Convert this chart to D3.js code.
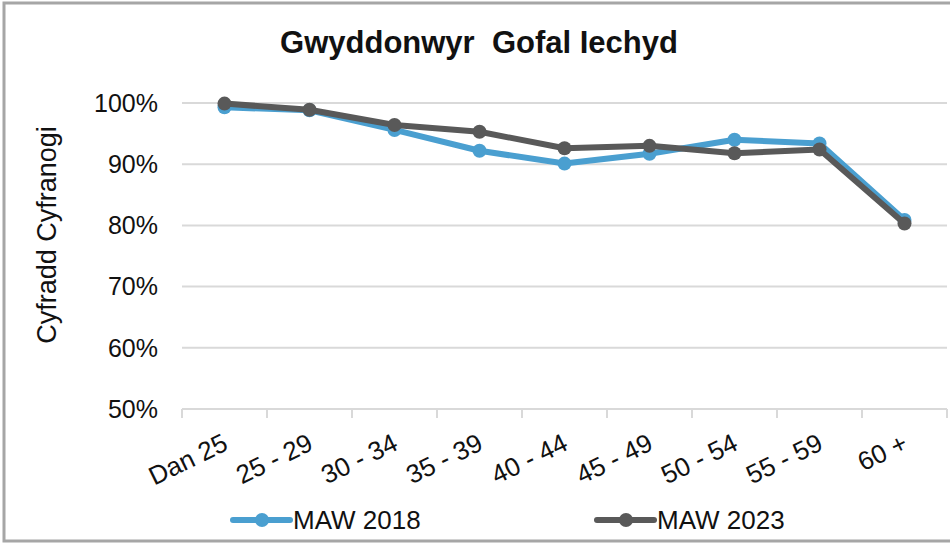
<!DOCTYPE html>
<meta charset="utf-8">
<style>
body { margin: 0; background: #fff; }
text { font-family: "Liberation Sans", Arial, sans-serif; fill: #111; }
.grid line { stroke: #d9d9d9; stroke-width: 2; }
.xaxis path, .xaxis line { stroke: #d9d9d9; stroke-width: 2; }
</style>
<svg width="950" height="545"></svg>
<script src="https://cdn.jsdelivr.net/npm/d3@7"></script>
<script>

var ageGroups = ["Dan 25", "25 - 29", "30 - 34", "35 - 39", "40 - 44", "45 - 49", "50 - 54", "55 - 59", "60 +"];
var maw2018 = [0.993, 0.988, 0.956, 0.922, 0.901, 0.917, 0.940, 0.934, 0.809];
var maw2023 = [0.999, 0.989, 0.964, 0.953, 0.926, 0.930, 0.918, 0.924, 0.803];
var yTicks = [0.5, 0.6, 0.7, 0.8, 0.9, 1.0];
var seriesNames = ["MAW 2018", "MAW 2023"];
var seriesColors = ["#4a9fd0", "#595959"];

var svg = d3.select("svg");

// chart frame
svg.append("path")
    .attr("d", "M960,3H4V541H960")
    .attr("fill", "none")
    .attr("stroke", "#a6a6a6")
    .attr("stroke-width", 3);

var x = d3.scaleBand()
    .domain(ageGroups)
    .range([182, 947]);

var y = d3.scaleLinear()
    .domain([0.5, 1.0])
    .range([409, 103]);

// gridlines
svg.append("g")
    .attr("class", "grid")
  .selectAll("line")
  .data(yTicks.slice(1))
  .enter().append("line")
    .attr("x1", 182)
    .attr("x2", 947)
    .attr("y1", function(d) { return y(d); })
    .attr("y2", function(d) { return y(d); });

// y labels
svg.append("g")
  .selectAll("text")
  .data(yTicks)
  .enter().append("text")
    .attr("x", 158)
    .attr("y", function(d) { return y(d); })
    .attr("dy", "0.35em")
    .attr("text-anchor", "end")
    .attr("font-size", 25)
    .text(d3.format(".0%"));

// x axis, ticks on category boundaries
var xAxis = svg.append("g")
    .attr("class", "xaxis")
    .attr("transform", "translate(0," + y(0.5) + ")")
    .call(d3.axisBottom(x).tickSize(0).tickFormat(""));
xAxis.select(".domain").attr("d", "M182,0H947");
xAxis.selectAll(".boundary")
  .data(ageGroups.concat(["end"]))
  .enter().append("line")
    .attr("x1", function(d, i) { return 182 + i * x.step(); })
    .attr("x2", function(d, i) { return 182 + i * x.step(); })
    .attr("y1", 0)
    .attr("y2", 9);

svg.append("g")
  .selectAll("text")
  .data(ageGroups)
  .enter().append("text")
    .attr("text-anchor", "end")
    .attr("font-size", 26)
    .attr("transform", function(d) {
      return "translate(" + (x(d) + x.bandwidth() / 2 + 5) + ",449) rotate(-26)";
    })
    .text(function(d) { return d; });

// y axis title
svg.append("text")
    .attr("transform", "translate(56,235) rotate(-90)")
    .attr("text-anchor", "middle")
    .attr("font-size", 27)
    .text("Cyfradd Cyfranogi");

// title
svg.append("text")
    .attr("x", 479)
    .attr("y", 53)
    .attr("text-anchor", "middle")
    .attr("font-size", 31)
    .attr("font-weight", "bold")
    .attr("fill", "#000")
    .style("white-space", "pre")
    .text("Gwyddonwyr  Gofal Iechyd");

var line = d3.line()
    .x(function(d, i) { return x(ageGroups[i]) + x.bandwidth() / 2; })
    .y(function(d) { return y(d); });

[maw2018, maw2023].forEach(function(values, s) {
  var g = svg.append("g");
  g.append("path")
      .datum(values)
      .attr("fill", "none")
      .attr("stroke", seriesColors[s])
      .attr("stroke-width", 6)
      .attr("stroke-linejoin", "round")
      .attr("d", line);
  g.selectAll("circle")
    .data(values)
    .enter().append("circle")
      .attr("cx", function(d, i) { return x(ageGroups[i]) + x.bandwidth() / 2; })
      .attr("cy", function(d) { return y(d); })
      .attr("r", 7)
      .attr("fill", seriesColors[s]);
});

// legend
var legend = svg.append("g")
  .selectAll("g")
  .data(seriesNames)
  .enter().append("g")
    .attr("transform", function(d, i) { return "translate(" + (233 + i * 364) + ",520)"; });
legend.append("line")
    .attr("x1", 0).attr("x2", 57)
    .attr("stroke", function(d, i) { return seriesColors[i]; })
    .attr("stroke-width", 6)
    .attr("stroke-linecap", "round");
legend.append("circle")
    .attr("cx", 29)
    .attr("r", 7)
    .attr("fill", function(d, i) { return seriesColors[i]; });
legend.append("text")
    .attr("x", 60)
    .attr("y", 9)
    .attr("font-size", 26)
    .text(function(d) { return d; });

</script>
